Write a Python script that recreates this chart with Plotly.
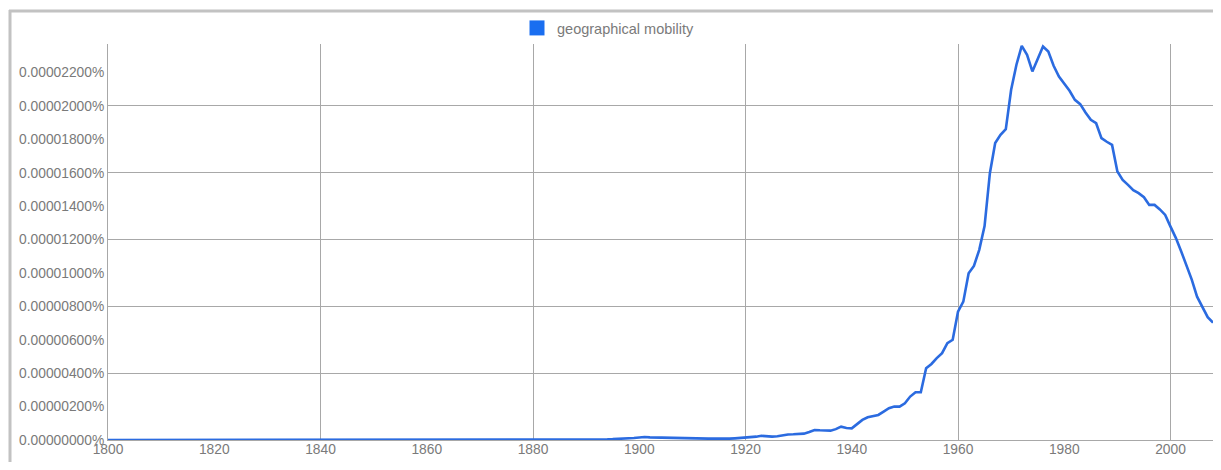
import plotly.graph_objects as go

# ------------------------------------------------------------------ #
# Data: yearly frequency of "geographical mobility", in millionths of a percent
# ------------------------------------------------------------------ #
years = list(range(1800, 2009))

freq_e6 = [
    # 1800-1889
    0.00, 0.00, 0.00, 0.00, 0.00, 0.00, 0.00, 0.00, 0.00, 0.00,
    0.00, 0.00, 0.00, 0.00, 0.00, 0.00, 0.00, 0.00, 0.00, 0.00,
    0.00, 0.00, 0.00, 0.00, 0.00, 0.00, 0.00, 0.00, 0.00, 0.00,
    0.00, 0.00, 0.00, 0.00, 0.00, 0.00, 0.00, 0.00, 0.00, 0.00,
    0.00, 0.00, 0.00, 0.00, 0.00, 0.00, 0.00, 0.00, 0.00, 0.00,
    0.00, 0.00, 0.00, 0.00, 0.00, 0.00, 0.00, 0.00, 0.00, 0.00,
    0.00, 0.00, 0.00, 0.00, 0.00, 0.00, 0.00, 0.00, 0.00, 0.00,
    0.00, 0.00, 0.00, 0.00, 0.00, 0.00, 0.00, 0.00, 0.00, 0.00,
    0.00, 0.00, 0.00, 0.00, 0.00, 0.00, 0.00, 0.00, 0.01, 0.01,
    # 1890-1899
    0.02, 0.02, 0.03, 0.03, 0.04, 0.05, 0.06, 0.08, 0.10, 0.12,
    # 1900-1909
    0.15, 0.18, 0.16, 0.15, 0.14, 0.14, 0.15, 0.14, 0.12, 0.10,
    # 1910-1919
    0.08, 0.08, 0.07, 0.08, 0.09, 0.08, 0.07, 0.08, 0.10, 0.12,
    # 1920-1929
    0.12, 0.15, 0.20, 0.25, 0.22, 0.20, 0.22, 0.28, 0.33, 0.34,
    # 1930-1939
    0.34, 0.38, 0.48, 0.60, 0.58, 0.57, 0.56, 0.65, 0.80, 0.72,
    # 1940-1949
    0.70, 0.95, 1.20, 1.36, 1.42, 1.50, 1.70, 1.90, 2.00, 2.00,
    # 1950-1959
    2.20, 2.60, 2.86, 2.86, 4.29, 4.55, 4.90, 5.20, 5.80, 6.00,
    # 1960-1969
    7.68, 8.28, 9.98, 10.42, 11.38, 12.80, 15.97, 17.77, 18.26, 18.60,
    # 1970-1979
    20.96, 22.46, 23.59, 23.05, 22.06, 22.80, 23.55, 23.25, 22.40, 21.75,
    # 1980-1989
    21.36, 20.90, 20.36, 20.10, 19.60, 19.16, 18.96, 18.07, 17.85, 17.66,
    # 1990-1999
    16.07, 15.57, 15.27, 14.95, 14.77, 14.53, 14.07, 14.07, 13.80, 13.47,
    # 2000-2008
    12.77, 12.10, 11.30, 10.50, 9.60, 8.58, 7.98, 7.35, 7.02,
]

freq = [v * 1e-6 for v in freq_e6]

series_name = "geographical mobility"

# ------------------------------------------------------------------ #
# Figure geometry (page body has an 8px margin, so everything is -8px
# and the figure is shrunk so no scrollbars appear)
# ------------------------------------------------------------------ #
W, H = 1205, 454
M_L, M_R, M_T, M_B = 100, 0, 36, 22
PW, PH = W - M_L - M_R, H - M_T - M_B

LINE_BLUE = "#2b6be0"
GRID = "#a8a8a8"
TEXT = "#7a7a7a"
FONT = "Liberation Sans, Arial, sans-serif"

fig = go.Figure()

fig.add_trace(
    go.Scatter(
        x=years,
        y=freq,
        mode="lines",
        line=dict(color=LINE_BLUE, width=2.6),
        showlegend=False,
        hoverinfo="x+y",
        cliponaxis=False,
    )
)

# legend entry drawn as a square swatch (lives on the grid-only axes)
fig.add_trace(
    go.Scatter(
        x=[None],
        y=[None],
        xaxis="x2",
        yaxis="y2",
        mode="markers",
        marker=dict(symbol="square", size=15, color="#1a6ef0"),
        name=series_name,
        showlegend=True,
    )
)

y_max = 23.7e-6

fig.update_layout(
    width=W,
    height=H,
    margin=dict(l=M_L, r=M_R, t=M_T, b=M_B, autoexpand=False),
    paper_bgcolor="white",
    plot_bgcolor="white",
    font=dict(family=FONT, size=13.8, color=TEXT),
    showlegend=True,
    legend=dict(
        orientation="h",
        xref="container",
        yref="container",
        x=600 / W,
        xanchor="center",
        y=1 - 20 / H,
        yanchor="middle",
        font=dict(size=14.5, color=TEXT),
        itemwidth=30,
        bgcolor="rgba(0,0,0,0)",
    ),
    xaxis=dict(
        range=[1800, 2008],
        tick0=1800,
        dtick=20,
        showgrid=False,
        zeroline=False,
        showline=True,
        linecolor=GRID,
        linewidth=1,
        ticks="",
        ticklabelstandoff=-4,
        fixedrange=True,
    ),
    yaxis=dict(
        range=[0, y_max],
        tick0=0,
        dtick=2e-6,
        tickformat=".8f",
        ticksuffix="%",
        showgrid=False,
        zeroline=False,
        showline=True,
        linecolor=GRID,
        linewidth=1,
        ticks="",
        fixedrange=True,
    ),
    # gridline-only axes (grid every 40 years / every 0.000004%)
    xaxis2=dict(
        overlaying="x",
        anchor="y2",
        range=[1800, 2008],
        tick0=1800,
        dtick=40,
        showgrid=True,
        gridcolor=GRID,
        gridwidth=1,
        showticklabels=False,
        zeroline=False,
        ticks="",
        fixedrange=True,
    ),
    yaxis2=dict(
        overlaying="y",
        anchor="x2",
        range=[0, y_max],
        tick0=0,
        dtick=4e-6,
        showgrid=True,
        gridcolor=GRID,
        gridwidth=1,
        showticklabels=False,
        zeroline=False,
        ticks="",
        fixedrange=True,
    ),
)


# outer frame: top and left edges only
def px_x(p):
    return (p - M_L) / PW


def px_y(p):
    return 1 - (p - M_T) / PH


fig.add_shape(
    type="line", xref="paper", yref="paper",
    x0=px_x(1), x1=px_x(W + 5), y0=px_y(3), y1=px_y(3),
    line=dict(color="#c2c2c2", width=3),
)
fig.add_shape(
    type="line", xref="paper", yref="paper",
    x0=px_x(2), x1=px_x(2), y0=px_y(2), y1=px_y(H + 5),
    line=dict(color="#c2c2c2", width=3),
)

fig.write_html("out.html", config={"displayModeBar": False})
